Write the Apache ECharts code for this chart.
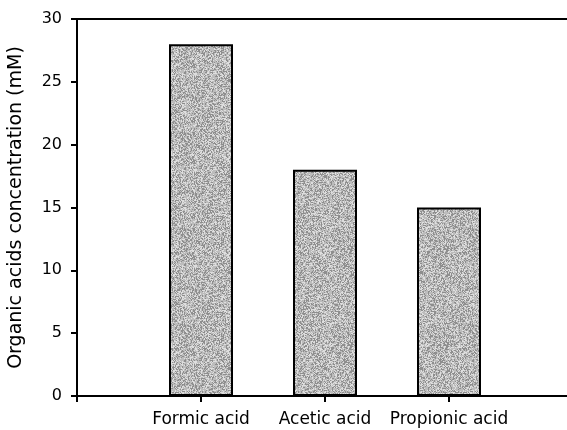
<!DOCTYPE html>
<html>
<head>
<meta charset="utf-8">
<script src="https://cdn.jsdelivr.net/npm/echarts@6/dist/echarts.min.js"></script>
<style>
  html, body { margin: 0; padding: 0; background: #fff; }
  #chart { width: 567px; height: 430px; }
</style>
</head>
<body>
<div id="chart"></div>
<script>
const categories = ["Formic acid", "Acetic acid", "Propionic acid"]
const concentration = [28, 18, 15]
const yTicks = [0, 5, 10, 15, 20, 25, 30]

// the x axis has an empty slot on each side of the three acids
const axisSlots = ["", ...categories, ""]
const barData = ["-", ...concentration, "-"]

// stippled grey fill like the printed figure - a fixed hash, so it looks the same every run
function stipple(size) {
  const canvas = document.createElement("canvas")
  canvas.width = size
  canvas.height = size
  const ctx = canvas.getContext("2d")
  ctx.fillStyle = "#bcbcbc"
  ctx.fillRect(0, 0, size, size)
  for (let i = 0; i < size * size; i++) {
    let h = Math.imul(i + 1, 2654435761) >>> 0
    h = (h ^ (h >>> 15)) >>> 0
    h = Math.imul(h, 2246822519) >>> 0
    h = (h ^ (h >>> 13)) >>> 0
    const r = h % 100
    if (r < 30) ctx.fillStyle = "#8e8e8e"
    else if (r < 55) ctx.fillStyle = "#dedede"
    else continue
    ctx.fillRect(i % size, Math.floor(i / size), 1, 1)
  }
  return canvas
}

const font = "DejaVu Sans"
const chart = echarts.init(document.getElementById("chart"), null, { renderer: "canvas" })

chart.setOption({
  animation: false,
  grid: {
    left: 77, top: 19, width: 496, height: 377,
    outerBoundsMode: "none",
    show: true, borderColor: "#000", borderWidth: 2, backgroundColor: "transparent"
  },
  xAxis: {
    type: "category",
    data: axisSlots,
    boundaryGap: false,
    axisLine: { lineStyle: { color: "#000", width: 2 } },
    axisTick: { show: true, length: 6, lineStyle: { color: "#000", width: 2 }, interval: 0 },
    axisLabel: { interval: 0, margin: 15, color: "#000", fontFamily: font, fontSize: 17 },
    splitLine: { show: false }
  },
  yAxis: {
    type: "value",
    min: yTicks[0],
    max: yTicks[yTicks.length - 1],
    interval: yTicks[1] - yTicks[0],
    name: "Organic acids concentration (mM)",
    nameLocation: "middle",
    nameGap: 51,
    nameTextStyle: { color: "#000", fontFamily: font, fontSize: 19 },
    axisLine: { show: true, lineStyle: { color: "#000", width: 2 } },
    axisTick: { show: true, length: 6, lineStyle: { color: "#000", width: 2 } },
    axisLabel: { margin: 15, color: "#000", fontFamily: font, fontSize: 16 },
    splitLine: { show: false }
  },
  series: [
    {
      type: "bar",
      data: barData,
      barWidth: 64,
      itemStyle: {
        color: { image: stipple(96), repeat: "repeat" },
        borderColor: "#000",
        borderWidth: 2
      }
    }
  ]
})
</script>
</body>
</html>
